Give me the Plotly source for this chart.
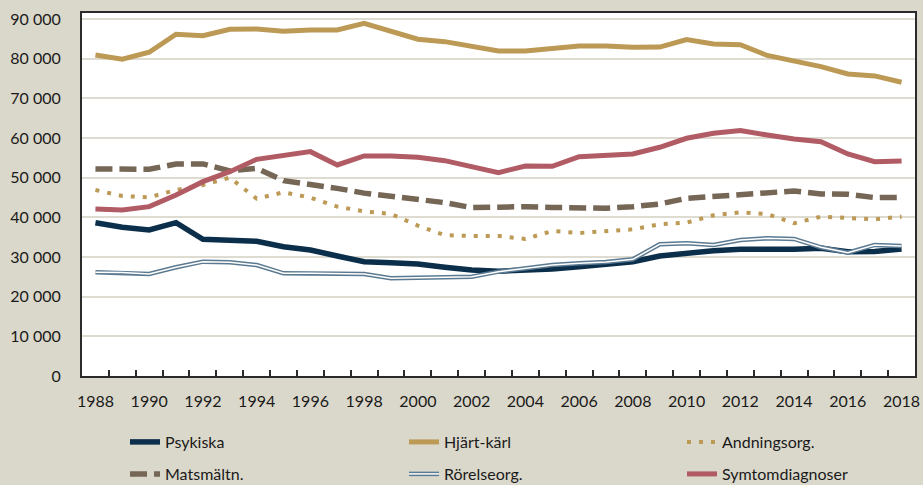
import plotly.graph_objects as go

years = list(range(1988, 2019))

psykiska = [38650, 37480, 36810, 38650, 34460, 34290, 33960, 32600, 31760, 30250, 28800,
            28560, 28230, 27400, 26720, 26400, 26550, 26970, 27560, 28150, 28820,
            30250, 31090, 31590, 31930, 31760, 31930, 32190, 31340, 31400, 32020]
hjart = [80920, 79840, 81600, 86140, 85790, 87400, 87480, 86900, 87230, 87230, 88920,
         86800, 84880, 84280, 83020, 81930, 81930, 82610, 83190, 83190, 82860,
         82900, 84800, 83700, 83500, 80800, 79400, 77980, 76140, 75640, 74040]
andning = [46890, 45380, 45050, 46890, 48150, 50000, 44700, 46300, 44960, 42690, 41500,
           40840, 37900, 35500, 35300, 35300, 34540, 36550, 36050, 36630, 36970,
           38240, 38660, 40500, 41260, 40840, 38500, 40170, 39760, 39500, 40170]
matsmaltn = [52200, 52000, 52100, 53450, 53450, 51700, 52360, 49240, 48400, 47300, 46100,
             45380, 44540, 43700, 42440, 42690, 42690, 42500, 42440, 42270, 42690,
             43360, 44790, 45210, 45880, 46210, 46640, 45880, 45800, 44960, 45000]
rorelse = [26140, 26060, 25710, 27400, 28820, 28650, 27980, 25890, 25890, 25890, 25700,
           24630, 24710, 24800, 25040, 26300, 27150, 27980, 28400, 28740, 29410,
           33200, 33450, 33030, 34290, 34710, 34540, 32440, 31090, 33030, 32770]
symtom = [42100, 41850, 42690, 45630, 48990, 51500, 54620, 55460, 56550, 53190, 55460,
          55460, 55130, 54280, 52770, 51260, 52940, 52850, 55290, 55710, 55950,
          57650, 59920, 61180, 61850, 60760, 59750, 59070, 55970, 54030, 54200]

x_labels = list(range(1988, 2019, 2))
y_ticks = list(range(0, 90001, 10000))

FONT = "Lato"
FS = 16
BG = "#dad8cb"
TXT = "#1a1a1a"

fig = go.Figure()

def add(name, y, color, width, dash="solid", legend="legend", showlegend=True):
    fig.add_trace(go.Scatter(
        x=years, y=y, name=name, mode="lines",
        line=dict(color=color, width=width, dash=dash),
        legend=legend, showlegend=showlegend, hoverinfo="skip"))

add("Psykiska", psykiska, "#0b2f4b", 5.5, legend="legend")
add("Hjärt-kärl", hjart, "#bc9a56", 5, legend="legend2")
add("Andningsorg.", andning, "#bc9a56", 4, dash="4px,8px", legend="legend3")
add("Matsmältn.", matsmaltn, "#756656", 5.5, dash="17px,7px", legend="legend4")
add("Rörelseorg.", rorelse, "#5b7a91", 4.5, legend="legend5")
add(" ", rorelse, "#ffffff", 1.5, legend="legend7")
add("Symtomdiagnoser", symtom, "#b15b64", 5, legend="legend6")

def leg(xpx, ypx):
    return dict(xref="container", yref="container", x=xpx / 923, y=1 - ypx / 485,
                xanchor="left", yanchor="middle", orientation="h",
                bgcolor="rgba(0,0,0,0)", borderwidth=0,
                font=dict(family=FONT, size=FS, color=TXT))

row1, row2 = 442, 474
c1, c2, c3 = 125, 404, 682

fig.update_layout(
    width=923, height=485,
    paper_bgcolor=BG, plot_bgcolor="#ffffff",
    margin=dict(l=82, r=8, t=13, b=109, autoexpand=False),
    separators=", ",
    font=dict(family=FONT, size=FS, color=TXT),
    legend=leg(c1, row1), legend2=leg(c2, row1), legend3=leg(c3, row1),
    legend4=leg(c1, row2), legend5=leg(c2, row2), legend6=leg(c3, row2),
    legend7=leg(c2, row2),
    xaxis=dict(
        range=[1987.5, 2018.5], tickmode="array", tickvals=x_labels,
        ticktext=[str(v) for v in x_labels], ticks="", showgrid=False,
        showline=True, mirror=True, linecolor="#2b2b2b", linewidth=2,
        ticklabelstandoff=10, zeroline=False, automargin=False,
        tickfont=dict(family=FONT, size=FS, color=TXT),
        minor=dict(tickmode="array", tickvals=[y + 0.5 for y in years[:-1]],
                   ticks="inside", ticklen=6, tickwidth=1.5, tickcolor="#2b2b2b",
                   showgrid=False),
    ),
    yaxis=dict(
        range=[0, 91500], tickmode="array", tickvals=y_ticks, tickformat=",d",
        ticks="", showgrid=True, gridcolor="#dedbd0", gridwidth=1.5,
        showline=True, mirror=True, linecolor="#2b2b2b", linewidth=2,
        ticklabelstandoff=16, zeroline=False, automargin=False,
        tickfont=dict(family=FONT, size=FS, color=TXT),
    ),
)

fig.write_html("out.html", config={"displayModeBar": False},
               post_script="document.body.style.margin='0';")
